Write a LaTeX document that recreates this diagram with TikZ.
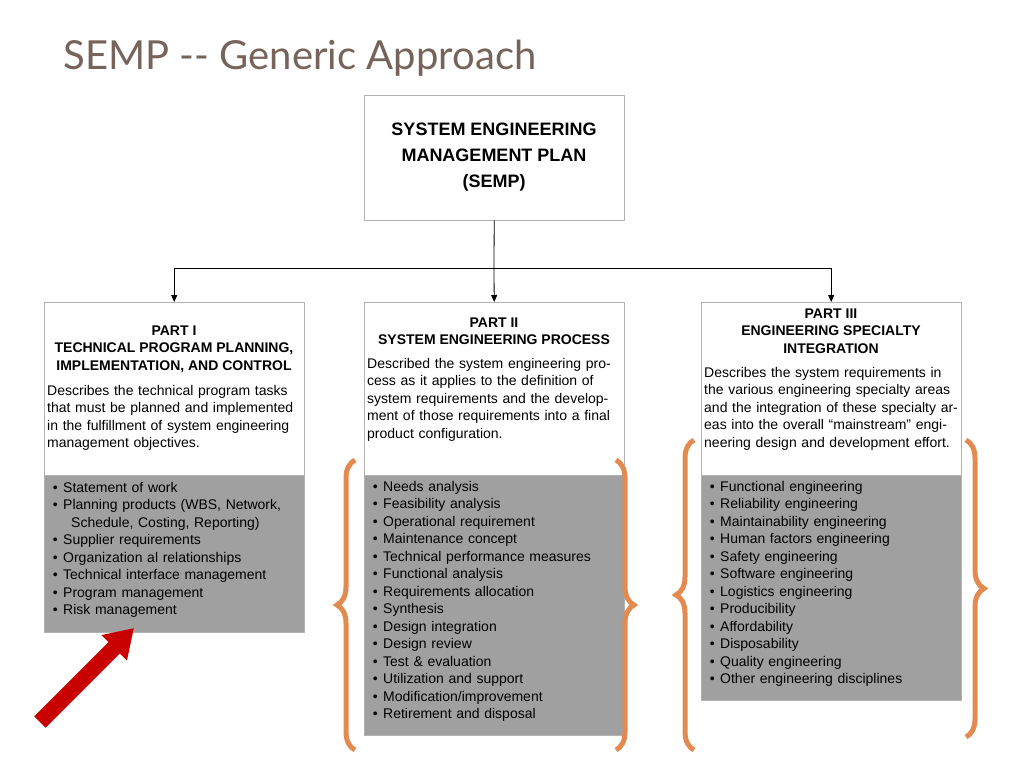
\documentclass[tikz,border=0pt]{standalone}
\usepackage{fontspec}
\setmainfont{Liberation Sans}
\newfontfamily\titlefont{Lato}
\usetikzlibrary{positioning,decorations.pathreplacing,arrows.meta}
\definecolor{boxgray}{RGB}{160,160,160}
\definecolor{braceorange}{RGB}{226,138,80}
\definecolor{titlebrown}{RGB}{118,100,90}
\definecolor{arrowred}{RGB}{200,0,0}
\tikzset{
  whitebox/.style={draw=black!30, fill=white, minimum width=260pt, anchor=north west},
  graybox/.style={draw=black!30, fill=boxgray, minimum width=260pt, anchor=north west},
  headtext/.style={font=\fontsize{14}{17.5}\selectfont\bfseries, align=center},
  bodytext/.style={font=\fontsize{14}{17.5}\selectfont, align=left, text width=254pt, inner sep=0pt, anchor=north west},
  obrace/.style={draw=braceorange, line width=5pt, decorate, decoration={brace, amplitude=18pt}},
  link/.style={-{Triangle[length=7pt,width=6pt]}, thick}
}
\newcommand{\itm}{\makebox[16pt][c]{\textbullet}}
\begin{document}
\begin{tikzpicture}[x=1pt,y=-1pt]
\useasboundingbox (0,0) rectangle (1024,768);
% Titel
\node[anchor=west, font=\titlefont\fontsize{40}{44}\selectfont, text=titlebrown] (title) at (60,58) {SEMP -- Generic Approach};

% Kasten oben
\node[whitebox, minimum height=125pt] (semp) at (364,95) {};
\node[headtext, font=\fontsize{18}{26}\selectfont\bfseries] at (494,157) {SYSTEM ENGINEERING\\MANAGEMENT PLAN\\(SEMP)};

% Teile
\node[whitebox, minimum height=173pt] (p1) at (44,302) {};
\node[graybox, minimum height=157pt] (g1) at (44,475) {};
\node[whitebox, minimum height=173pt] (p2) at (364,302) {};
\node[graybox, minimum height=260pt] (g2) at (364,475) {};
\node[whitebox, minimum height=173pt] (p3) at (701,302) {};
\node[graybox, minimum height=225pt] (g3) at (701,475) {};

% Verbindungen
\coordinate (split) at (494,268);
\draw[thick] (semp.south) -- (split);
\draw[thick] (p1.north |- split) -- (p3.north |- split);
\draw[link] (p1.north |- split) -- (p1.north);
\draw[link] (split) -- (p2.north);
\draw[link] (p3.north |- split) -- (p3.north);

% Texte Teil I
\node[headtext] at (174,349) {PART I\\TECHNICAL PROGRAM PLANNING,\\IMPLEMENTATION, AND CONTROL};
\node[bodytext] at (47,385) {Describes the technical program tasks that must be planned and implemented in the fulfillment of system engineering management objectives.};
\node[bodytext] at (47,482) {\itm Statement of work\\ \itm Planning products (WBS, Network,\\ \hspace*{24pt}Schedule, Costing, Reporting)\\ \itm Supplier requirements\\ \itm Organization al relationships\\ \itm Technical interface management\\ \itm Program management\\ \itm Risk management};

% Texte Teil II
\node[headtext] at (494,331) {PART II\\SYSTEM ENGINEERING PROCESS};
\node[bodytext] at (367,358) {Described the system engineering process as it applies to the definition of system requirements and the development of those requirements into a final product configuration.};
\node[bodytext] at (367,481) {\itm Needs analysis\\ \itm Feasibility analysis\\ \itm Operational requirement\\ \itm Maintenance concept\\ \itm Technical performance measures\\ \itm Functional analysis\\ \itm Requirements allocation\\ \itm Synthesis\\ \itm Design integration\\ \itm Design review\\ \itm Test \& evaluation\\ \itm Utilization and support\\ \itm Modification/improvement\\ \itm Retirement and disposal};

% Texte Teil III
\node[headtext] at (831,331) {PART III\\ENGINEERING SPECIALTY\\INTEGRATION};
\node[bodytext] at (704,367) {Describes the system requirements in the various engineering specialty areas and the integration of these specialty areas into the overall ``mainstream'' engineering design and development effort.};
\node[bodytext] at (704,481) {\itm Functional engineering\\ \itm Reliability engineering\\ \itm Maintainability engineering\\ \itm Human factors engineering\\ \itm Safety engineering\\ \itm Software engineering\\ \itm Logistics engineering\\ \itm Producibility\\ \itm Affordability\\ \itm Disposability\\ \itm Quality engineering\\ \itm Other engineering disciplines};

% Klammern
\draw[obrace] (355,750) -- (355,460);
\draw[obrace] (616,460) -- (616,750);
\draw[obrace] (694,750) -- (694,440);
\draw[obrace] (966,440) -- (966,737);

% Pfeil
\draw[-{Triangle[length=28pt,width=34pt]}, line width=16pt, draw=arrowred] (40,722) -- (134,628);
\end{tikzpicture}
\end{document}
